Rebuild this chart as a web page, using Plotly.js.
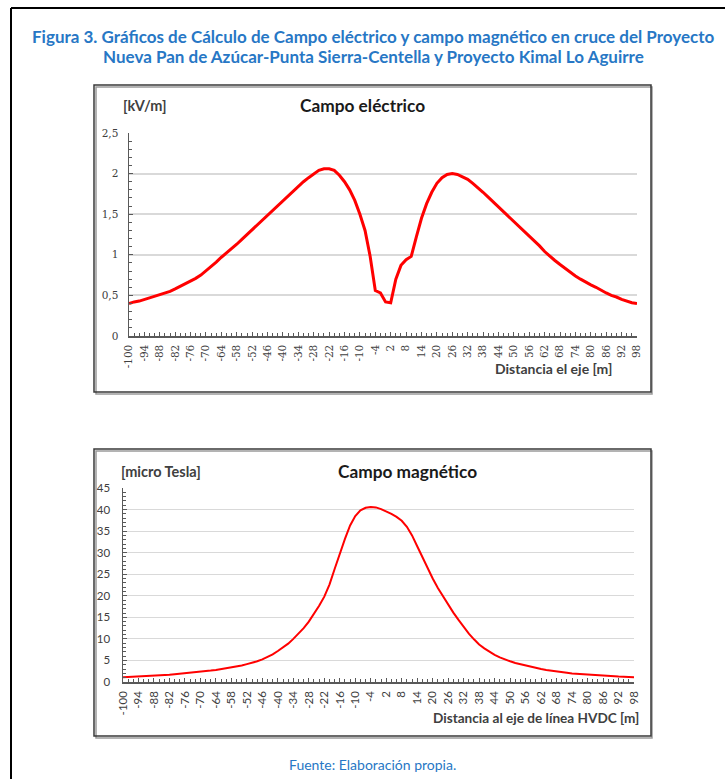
<!DOCTYPE html>
<html>
<head>
<meta charset="utf-8">
<script src="https://cdn.plot.ly/plotly-3.0.1.min.js"></script>
<style>
html,body{margin:0;padding:0;background:#fff;}
#chart{width:725px;height:779px;}
</style>
</head>
<body>
<div id="chart"></div>
<script>
// ---- Data ----
const distancia = [-100,-98,-96,-94,-92,-90,-88,-86,-84,-82,-80,-78,-76,-74,-72,-70,-68,-66,-64,-62,
  -60,-58,-56,-54,-52,-50,-48,-46,-44,-42,-40,-38,-36,-34,-32,-30,-28,-26,-24,-22,
  -20,-18,-16,-14,-12,-10,-8,-6,-4,-2,0,2,4,6,8,10,12,14,16,18,
  20,22,24,26,28,30,32,34,36,38,40,42,44,46,48,50,52,54,56,58,
  60,62,64,66,68,70,72,74,76,78,80,82,84,86,88,90,92,94,96,98];

const campoElectrico = [0.40,0.42,0.43,0.45,0.47,0.49,0.51,0.53,0.55,0.58,0.61,0.64,0.67,0.71,0.75,0.80,0.85,0.91,0.97,1.02,
  1.08,1.13,1.19,1.25,1.31,1.37,1.43,1.49,1.55,1.61,1.67,1.73,1.79,1.85,1.90,1.95,2.00,2.04,2.06,2.06,
  2.04,1.98,1.90,1.80,1.67,1.50,1.30,0.98,0.56,0.53,0.42,0.41,0.70,0.87,0.94,0.98,1.22,1.45,1.63,1.77,
  1.88,1.95,1.99,2.00,1.99,1.96,1.93,1.88,1.83,1.77,1.71,1.65,1.59,1.53,1.48,1.42,1.36,1.30,1.24,1.17,
  1.11,1.04,0.98,0.93,0.88,0.83,0.79,0.74,0.70,0.66,0.63,0.60,0.56,0.53,0.50,0.48,0.45,0.43,0.41,0.40];

const campoMagnetico = [1.1,1.15,1.2,1.25,1.3,1.4,1.45,1.55,1.6,1.7,1.8,1.9,2.0,2.1,2.2,2.35,2.5,2.65,2.8,3.0,
  3.15,3.35,3.6,3.85,4.15,4.45,4.8,5.25,5.75,6.4,7.2,8.0,8.9,10.0,11.2,12.5,14.0,15.8,17.7,19.8,
  22.6,26.2,29.8,33.2,36.3,38.5,39.8,40.4,40.6,40.5,40.1,39.6,39.0,38.3,37.4,36.0,34.0,31.5,28.9,26.3,
  24.0,21.8,19.8,18.0,16.1,14.4,12.7,11.2,9.9,8.7,7.8,7.0,6.3,5.7,5.2,4.8,4.4,4.1,3.8,3.5,
  3.2,3.0,2.8,2.6,2.45,2.3,2.15,2.0,1.9,1.8,1.7,1.6,1.5,1.45,1.35,1.3,1.25,1.2,1.15,1.1];

const xTickVals = [-100,-94,-88,-82,-76,-70,-64,-58,-52,-46,-40,-34,-28,-22,-16,-10,-4,2,8,14,20,26,32,38,44,50,56,62,68,74,80,86,92,98];
const xTickText = ['-100','-94','-88','-82','-76','-70','-64','-58','-52','-46','-40','-34','-28','-22','-16','-10','-4','2','8','14','20','26','32','38','44','50','56','62','68','74','80','86','92','98'];
const yTickValsE = [0,0.5,1,1.5,2,2.5];
const yTickTextE = ['0','0,5','1','1,5','2','2,5'];
const yTickValsB = [0,5,10,15,20,25,30,35,40,45];
const yTickTextB = ['0','5','10','15','20','25','30','35','40','45'];

const textos = {
  titulo1: 'Figura 3. Gráficos de Cálculo de Campo eléctrico y campo magnético en cruce del Proyecto',
  titulo2: 'Nueva Pan de Azúcar-Punta Sierra-Centella y Proyecto Kimal Lo Aguirre',
  unidadE: '[kV/m]', tituloE: 'Campo eléctrico', ejeE: 'Distancia el eje [m]',
  unidadB: '[micro Tesla]', tituloB: 'Campo magnético', ejeB: 'Distancia al eje de línea HVDC [m]',
  fuente: 'Fuente: Elaboración propia.'
};

// ---- Layout helpers (pixels -> paper) ----
const W = 725, H = 779;
const px = v => v / W;
const py = v => 1 - v / H;

const blue = '#2777c5';
const dark = '#404040';
const sans = 'Lato, Open Sans, sans-serif';

const traces = [
  {x: distancia, y: campoElectrico, type: 'scatter', mode: 'lines', xaxis: 'x', yaxis: 'y',
   line: {color: '#ff0000', width: 3}, hoverinfo: 'x+y'},
  {x: distancia, y: campoMagnetico, type: 'scatter', mode: 'lines', xaxis: 'x2', yaxis: 'y2',
   line: {color: '#ff0000', width: 2}, hoverinfo: 'x+y'}
];

const tickFontSerif = {family: 'DejaVu Serif, Liberation Serif, serif', size: 10.5, color: dark};
const tickFontSans = {family: sans, size: 11.5, color: dark};

function xAxis(domain, anchor, font) {
  return {
    domain: domain, anchor: anchor, range: [-100, 98], showgrid: false, zeroline: false,
    showline: true, linecolor: '#595959', linewidth: 1.5,
    tickmode: 'array', tickvals: xTickVals, ticktext: xTickText, tickangle: -90,
    ticks: 'inside', ticklen: 4, tickcolor: '#595959', tickfont: font, ticklabelstandoff: 3,
    minor: {dtick: 2, tick0: 0, ticks: 'inside', ticklen: 3, tickcolor: '#595959', showgrid: false},
    fixedrange: true
  };
}
function yAxis(domain, anchor, range, vals, text, minorD, font, gridw, standoff) {
  return {
    domain: domain, anchor: anchor, range: range, zeroline: false,
    showgrid: true, gridcolor: '#d9d9d9', gridwidth: gridw,
    showline: true, linecolor: '#595959', linewidth: 1.5,
    tickmode: 'array', tickvals: vals, ticktext: text,
    ticks: 'inside', ticklen: 4, tickcolor: '#595959', tickfont: font, ticklabelstandoff: standoff,
    minor: {dtick: minorD, ticks: 'inside', ticklen: 3, tickcolor: '#595959', showgrid: false},
    fixedrange: true
  };
}

function ann(text, x, y, anchor, size, color, bold) {
  return {text: text, xref: 'paper', yref: 'paper', x: px(x), y: py(y), xanchor: anchor, yanchor: 'middle',
    showarrow: false, font: {family: sans, size: size, color: color, weight: bold ? 'bold' : 'normal'}};
}

const layout = {
  width: W, height: H, margin: {l: 0, r: 0, t: 0, b: 0},
  paper_bgcolor: '#ffffff', plot_bgcolor: 'rgba(0,0,0,0)', showlegend: false,
  xaxis: xAxis([px(129), px(637)], 'y', tickFontSerif),
  yaxis: yAxis([py(336), py(133)], 'x', [0, 2.5], yTickValsE, yTickTextE, 0.1, tickFontSerif, 2, 7),
  xaxis2: xAxis([px(123), px(634)], 'y2', tickFontSans),
  yaxis2: yAxis([py(682), py(488)], 'x2', [0, 45], yTickValsB, yTickTextB, 1, tickFontSans, 1, 9),
  shapes: [
    {type: 'line', xref: 'paper', yref: 'paper', x0: px(11), x1: px(11), y0: py(8), y1: py(790), line: {color: '#000', width: 2}},
    {type: 'line', xref: 'paper', yref: 'paper', x0: px(11), x1: px(740), y0: py(8), y1: py(8), line: {color: '#000', width: 2}},
    {type: 'rect', xref: 'paper', yref: 'paper', x0: px(96), x1: px(652), y0: py(394), y1: py(87), line: {color: '#9a9a9a', width: 1.5}},
    {type: 'rect', xref: 'paper', yref: 'paper', x0: px(96), x1: px(652), y0: py(738), y1: py(451), line: {color: '#9a9a9a', width: 1.5}},
    {type: 'rect', xref: 'paper', yref: 'paper', x0: px(94), x1: px(651), y0: py(392), y1: py(85), line: {color: '#3a3a3a', width: 1.5}},
    {type: 'rect', xref: 'paper', yref: 'paper', x0: px(94), x1: px(651), y0: py(736), y1: py(449), line: {color: '#3a3a3a', width: 1.5}}
  ],
  annotations: [
    ann(textos.titulo1, 373, 37, 'center', 17, blue, true),
    ann(textos.titulo2, 373, 57, 'center', 17, blue, true),
    ann(textos.unidadE, 121, 106, 'left', 14.5, dark, true),
    ann(textos.tituloE, 362, 106, 'center', 17.3, '#1a1a1a', true),
    ann(textos.ejeE, 614, 369, 'right', 14, dark, true),
    ann(textos.unidadB, 119, 471, 'left', 14.5, dark, true),
    ann(textos.tituloB, 407, 471, 'center', 17.3, '#1a1a1a', true),
    ann(textos.ejeB, 641, 718, 'right', 13.6, dark, true),
    ann(textos.fuente, 372, 764, 'center', 14, blue, false)
  ]
};

Plotly.newPlot('chart', traces, layout, {staticPlot: true, displayModeBar: false});
</script>
</body>
</html>
